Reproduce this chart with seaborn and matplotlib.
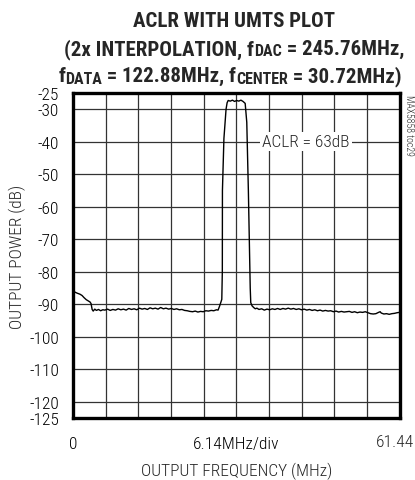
import matplotlib
matplotlib.use("Agg")
import matplotlib.pyplot as plt
import seaborn as sns
import pandas as pd

sns.set_style("white")
FONT = "Roboto Condensed"
plt.rcParams["font.family"] = [FONT, "DejaVu Sans"]

# ---- data ----
freq_mhz = [
    0.0, 0.4, 0.8, 1.3, 1.7, 2.1, 2.5, 2.9, 3.2, 3.4, 3.6, 3.8, 4.1, 4.4, 4.8, 5.2, 5.6, 6.0,
    6.5, 7.0, 7.5, 8.0, 8.5, 9.0, 9.5, 10.0, 10.5, 11.0, 11.5, 12.0, 12.5, 13.0, 13.5, 14.0,
    14.5, 15.0, 15.5, 16.0, 16.5, 17.0, 17.5, 18.0, 18.5, 19.0, 19.5, 20.0, 20.5, 21.0, 21.5,
    22.0, 22.5, 23.0, 23.5, 24.0, 24.5, 25.0, 25.5, 26.0, 26.5, 27.0, 27.3, 27.6, 27.8, 28.0,
    28.1, 28.12, 28.4, 28.8, 29.0, 29.2, 29.6, 30.0, 30.4, 30.8, 31.2, 31.6, 32.0, 32.4, 32.7,
    33.0, 33.2, 33.35, 33.45, 33.7, 34.0, 34.3, 34.6, 35.0, 35.5, 36.0, 36.5, 37.0, 37.5, 38.0,
    38.5, 39.0, 39.5, 40.0, 40.5, 41.0, 41.5, 42.0, 42.5, 43.0, 43.5, 44.0, 44.5, 45.0, 45.5,
    46.0, 46.5, 47.0, 47.5, 48.0, 48.5, 49.0, 49.5, 50.0, 50.5, 51.0, 51.5, 52.0, 52.5, 53.0,
    53.5, 54.0, 54.5, 55.0, 55.5, 56.0, 56.5, 57.0, 57.5, 57.8, 58.0, 58.5, 59.0, 59.5, 60.0,
    60.5, 61.0, 61.44,
]
power_db = [
    -85.8, -86.3, -86.6, -86.9, -87.3, -88.0, -88.6, -89.0, -89.3, -89.8, -91.6, -92.1, -91.5,
    -91.9, -91.6, -92.0, -91.7, -91.8, -91.5, -91.9, -91.6, -91.8, -91.4, -91.7, -91.5, -91.8,
    -91.3, -91.6, -91.4, -91.7, -91.2, -91.5, -91.3, -91.6, -91.1, -91.4, -91.2, -91.5, -91.0,
    -91.4, -91.2, -91.5, -91.3, -91.6, -91.4, -91.7, -91.6, -91.9, -92.0, -92.2, -92.3, -92.1,
    -92.4, -92.2, -92.3, -92.0, -92.1, -91.9, -92.0, -91.7, -91.8, -90.5, -89.5, -88.5,
    -80.0, -55.0, -39.0, -30.0, -28.0, -27.3, -27.5, -27.2, -27.6, -27.3, -27.5, -27.2, -27.6,
    -28.2, -34.0, -55.0, -72.0, -85.0, -89.5, -90.5, -91.0, -91.4, -91.2, -91.6, -91.4, -91.8,
    -91.5, -91.7, -91.4, -91.6, -91.3, -91.6, -91.3, -91.5, -91.2, -91.5, -91.3, -91.6, -91.4,
    -91.7, -91.5, -91.8, -91.6, -91.9, -91.7, -92.0, -91.8, -92.1, -91.9, -92.1, -92.0, -92.3,
    -92.1, -92.4, -92.2, -92.4, -92.3, -92.2, -92.5, -92.3, -92.6, -92.4, -92.5, -92.3, -92.6,
    -92.9, -93.0, -92.9, -92.5, -92.3, -92.7, -93.0, -92.9, -93.1, -92.9, -92.8, -92.6, -92.5,
]
x_grid = [0, 6.144, 12.288, 18.432, 24.576, 30.72, 36.864, 43.008, 49.152, 55.296, 61.44]
x_labels = ["0", "", "", "", "", "6.14MHz/div", "", "", "", "", ""]
x_last_label = "61.44"
y_ticks = [-25, -30, -40, -50, -60, -70, -80, -90, -100, -110, -120, -125]
y_labels = ["-25", "-30", "-40", "-50", "-60", "-70", "-80", "-90", "-100", "-110", "-120", "-125"]

df = pd.DataFrame({"freq": freq_mhz, "power": power_db})

W, H = 415, 481
fig = plt.figure(figsize=(W / 100, H / 100), dpi=100)
ax = fig.add_axes([73 / W, 1 - 419 / H, (399.5 - 73) / W, (419 - 94) / H])

sns.lineplot(data=df, x="freq", y="power", ax=ax, color="black", linewidth=1.0,
             estimator=None, sort=False, zorder=3)

ax.set_xlim(0, 61.44)
ax.set_ylim(-125, -25)
ax.set_xticks(x_grid)
ax.set_xticklabels(x_labels)
ax.set_yticks(y_ticks)
ax.set_yticklabels(y_labels)
ax.tick_params(axis="both", length=0, labelsize=12.5, colors="black")
ax.tick_params(axis="y", pad=10)
ax.tick_params(axis="x", pad=13)
for lab in ax.get_xticklabels() + ax.get_yticklabels():
    lab.set_fontweight("light")
for v in x_grid[1:-1]:
    ax.axvline(v, color="#333333", linewidth=0.9, zorder=1)
for v in y_ticks[1:-1]:
    ax.axhline(v, color="#333333", linewidth=0.9, zorder=1)
for s in ax.spines.values():
    s.set_linewidth(2.4)
    s.set_color("black")
    s.set_visible(True)

fig.text(414 / W, 1 - 443 / H, x_last_label, fontsize=12.5, fontweight="light",
         ha="right", va="center")

ax.set_xlabel("OUTPUT FREQUENCY (MHz)", fontsize=12.5, fontweight="light", labelpad=8)
ax.set_ylabel("OUTPUT POWER (dB)", fontsize=12.5, fontweight="light", labelpad=2)

ax.text(43.85, -40, "ACLR = 63dB", fontsize=12.5, fontweight="light", ha="center",
        va="center", zorder=4, bbox=dict(facecolor="white", edgecolor="none", pad=1.5))

fig.text(408.5 / W, 1 - 95 / H, "MAX5858 toc29", rotation=270, fontsize=7,
         fontweight="light", ha="center", va="top")

# ---- title, drawn as runs of text so the subscripts can be sized freely ----
renderer = fig.canvas.get_renderer()
MAIN, SUB, SUB_DY = 15, 11.5, -1.5


def title_line(runs, xc_px, base_px):
    items = []
    for txt, is_sub in runs:
        t = fig.text(0, 0, txt, fontsize=SUB if is_sub else MAIN, fontweight="bold",
                     ha="left", va="baseline")
        items.append((t, is_sub))
    widths = [t.get_window_extent(renderer).width for t, _ in items]
    x = xc_px - sum(widths) / 2
    for (t, is_sub), w in zip(items, widths):
        y = base_px - (SUB_DY if is_sub else 0)
        t.set_position((x / W, 1 - y / H))
        x += w


title_line([("ACLR WITH UMTS PLOT", False)], 234, 27)
title_line([("(2x INTERPOLATION, f", False), ("DAC", True), (" = 245.76MHz,", False)], 234, 55)
title_line([("f", False), ("DATA", True), (" = 122.88MHz, f", False), ("CENTER", True),
            (" = 30.72MHz)", False)], 230, 82)

fig.savefig("out.png", dpi=100)
